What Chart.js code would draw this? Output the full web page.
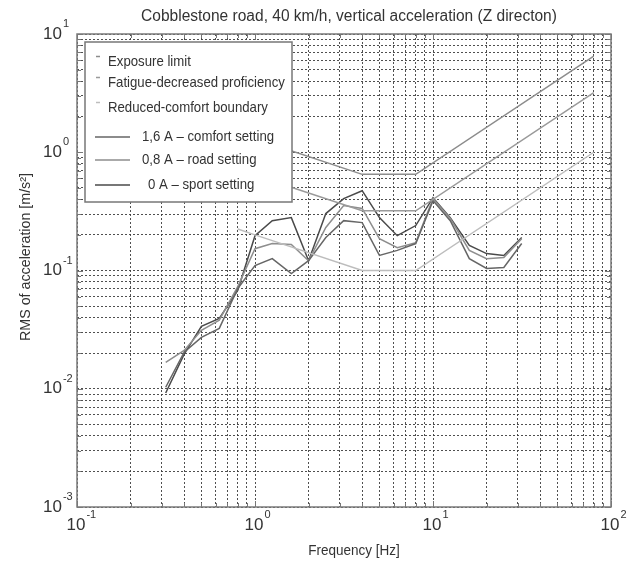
<!DOCTYPE html>
<html>
<head>
<meta charset="utf-8">
<script src="https://cdn.jsdelivr.net/npm/chart.js@4.4.1/dist/chart.umd.min.js"></script>
<style>
  html, body { margin: 0; padding: 0; background: #fff; }
  canvas { display: block; }
</style>
</head>
<body>
<canvas id="chart" width="635" height="568"></canvas>
<script>
// 1/3-octave band centre frequencies [Hz]
const freqs = [0.315, 0.4, 0.5, 0.63, 0.8, 1, 1.25, 1.6, 2, 2.5, 3.15, 4, 5, 6.3, 8, 10, 12.5, 16, 20, 25, 31.5];

// RMS of vertical acceleration [m/s2] per band
const comfort16A = [0.0103, 0.0204, 0.0272, 0.0324, 0.0705, 0.110, 0.126, 0.094, 0.121, 0.190, 0.264, 0.254, 0.134, 0.148, 0.169, 0.390, 0.264, 0.126, 0.104, 0.106, 0.169];
const road08A = [0.0167, 0.0211, 0.0312, 0.0380, 0.0730, 0.153, 0.169, 0.166, 0.121, 0.231, 0.354, 0.335, 0.186, 0.156, 0.172, 0.405, 0.275, 0.148, 0.126, 0.129, 0.186];
const sport0A = [0.0092, 0.0196, 0.0337, 0.0394, 0.0680, 0.197, 0.264, 0.280, 0.121, 0.303, 0.405, 0.473, 0.280, 0.197, 0.240, 0.413, 0.280, 0.163, 0.139, 0.134, 0.190];

// ISO boundary curves
const limitFreqs = [0.8, 1, 4, 8, 80];
const exposureLimit = [1.45, 1.3, 0.65, 0.65, 6.5];
const fatigueProficiency = [0.72, 0.64, 0.32, 0.32, 3.2];
const reducedComfort = [0.224, 0.2, 0.1, 0.1, 1.0];

// axis decades (labels drawn as 10^n)
const xDecades = [0.1, 1, 10, 100];
const yDecades = [0.001, 0.01, 0.1, 1, 10];

const FONT = '"Liberation Sans", Arial, sans-serif';
const TEXT = '#333';

function gridValues(decades) {
  const vals = [];
  decades.forEach((d, i) => {
    if (i === decades.length - 1) { vals.push(d); return; }
    for (let m = 1; m <= 9; m++) vals.push(+(d * m).toPrecision(3));
  });
  return vals;
}

// the original uses a narrow sans, so squeeze text a little
function narrowText(ctx, txt, x, y, squeeze) {
  ctx.save();
  ctx.translate(x, y);
  ctx.scale(squeeze, 1);
  ctx.fillText(txt, 0, 0);
  ctx.restore();
}

const toPoints = (xs, ys) => xs.map((x, i) => ({ x: x, y: ys[i] }));

const line = (label, xs, ys, color, legendKind) => ({
  label: label,
  data: toPoints(xs, ys),
  borderColor: color,
  borderWidth: 1.5,
  pointRadius: 0,
  fill: false,
  tension: 0,
  legendKind: legendKind
});

const datasets = [
  line('Exposure limit', limitFreqs, exposureLimit, '#8c8c8c', 'dash'),
  line('Fatigue-decreased proficiency', limitFreqs, fatigueProficiency, '#9a9a9a', 'dash'),
  line('Reduced-comfort boundary', limitFreqs, reducedComfort, '#bdbdbd', 'dash'),
  line('1,6 A \u2013 comfort setting', freqs, comfort16A, '#666666', 'line'),
  line('0,8 A \u2013 road setting', freqs, road08A, '#8e8e8e', 'line'),
  line('0 A \u2013 sport setting', freqs, sport0A, '#4a4a4a', 'line')
];

function drawPower(ctx, exp, x, y, mode) {
  ctx.fillStyle = TEXT;
  ctx.textBaseline = 'middle';
  ctx.textAlign = 'left';
  ctx.font = '17px ' + FONT;
  const w = ctx.measureText('10').width;
  const left = mode === 'center' ? x - w / 2 : x;
  ctx.fillText('10', left, y);
  ctx.font = '11px ' + FONT;
  ctx.fillText(String(exp), left + w + 1, y - 10);
}

const decorations = {
  id: 'decorations',
  afterDatasetsDraw(chart) {
    const ctx = chart.ctx;
    ctx.save();
    // legend box
    const bx = 85, by = 42, bw = 207, bh = 160;
    ctx.fillStyle = '#fff';
    ctx.fillRect(bx, by, bw, bh);
    ctx.strokeStyle = '#777';
    ctx.lineWidth = 1.5;
    ctx.strokeRect(bx, by, bw, bh);
    const rows = [
      { y: 62, tx: 108 }, { y: 83, tx: 108 }, { y: 108, tx: 108 },
      { y: 137, tx: 142 }, { y: 160, tx: 142 }, { y: 185, tx: 148 }
    ];
    ctx.font = '15px ' + FONT;
    ctx.textBaseline = 'middle';
    ctx.textAlign = 'left';
    chart.data.datasets.forEach((ds, i) => {
      const r = rows[i];
      ctx.strokeStyle = ds.borderColor;
      ctx.lineWidth = 1.5;
      ctx.beginPath();
      if (ds.legendKind === 'dash') {
        ctx.moveTo(96, r.y - 5.5);
        ctx.lineTo(100, r.y - 5.5);
      } else {
        ctx.moveTo(95, r.y);
        ctx.lineTo(130, r.y);
      }
      ctx.stroke();
      ctx.fillStyle = TEXT;
      narrowText(ctx, ds.label, r.tx, r.y, 0.88);
    });
    ctx.restore();
  },
  afterDraw(chart) {
    const ctx = chart.ctx;
    const a = chart.chartArea;
    const xs = chart.scales.x, ys = chart.scales.y;
    ctx.save();
    // inner tick marks
    ctx.strokeStyle = '#777';
    ctx.lineWidth = 1;
    ctx.beginPath();
    gridValues(xDecades).forEach(v => {
      const px = Math.round(xs.getPixelForValue(v)) + 0.5;
      const len = xDecades.includes(v) ? 6 : 4;
      ctx.moveTo(px, a.bottom); ctx.lineTo(px, a.bottom - len);
      ctx.moveTo(px, a.top); ctx.lineTo(px, a.top + len);
    });
    gridValues(yDecades).forEach(v => {
      const py = Math.round(ys.getPixelForValue(v)) + 0.5;
      const len = yDecades.includes(v) ? 6 : 4;
      ctx.moveTo(a.left, py); ctx.lineTo(a.left + len, py);
      ctx.moveTo(a.right, py); ctx.lineTo(a.right - len, py);
    });
    ctx.stroke();
    // frame
    ctx.strokeStyle = '#7a7a7a';
    ctx.lineWidth = 1.5;
    ctx.strokeRect(a.left, a.top, a.right - a.left, a.bottom - a.top);

    // tick labels
    xDecades.forEach(v => {
      drawPower(ctx, Math.round(Math.log10(v)), xs.getPixelForValue(v) - 1, a.bottom + 18, 'center');
    });
    yDecades.forEach(v => {
      drawPower(ctx, Math.round(Math.log10(v)), 43, ys.getPixelForValue(v), 'left');
    });

    // titles
    ctx.fillStyle = TEXT;
    ctx.textAlign = 'center';
    ctx.textBaseline = 'middle';
    ctx.font = '16px ' + FONT;
    narrowText(ctx, 'Cobblestone road, 40 km/h, vertical acceleration (Z directon)', (a.left + a.right) / 2 + 5, 17, 0.97);
    ctx.font = '15px ' + FONT;
    narrowText(ctx, 'Frequency [Hz]', (a.left + a.right) / 2 + 10, 551, 0.9);
    ctx.translate(26, 257);
    ctx.rotate(-Math.PI / 2);
    narrowText(ctx, 'RMS of acceleration [m/s\u00b2]', 0, 0, 0.95);
    ctx.restore();
  }
};

const forceTicks = decades => scale => {
  scale.ticks = gridValues(decades).map(v => ({ value: v }));
};

const axisOpts = (min, max, decades) => ({
  type: 'logarithmic',
  min: min,
  max: max,
  afterBuildTicks: forceTicks(decades),
  ticks: { display: false },
  grid: { color: 'rgba(60,60,60,0.9)', lineWidth: 1, drawTicks: false },
  border: { display: false, dash: [2, 2] }
});

new Chart(document.getElementById('chart'), {
  type: 'line',
  data: { datasets: datasets },
  options: {
    responsive: false,
    animation: false,
    devicePixelRatio: 1,
    layout: { padding: { left: 77, top: 34, right: 24, bottom: 61 } },
    plugins: { legend: { display: false }, title: { display: false }, tooltip: { enabled: false } },
    scales: {
      x: axisOpts(0.1, 100, xDecades),
      y: axisOpts(0.001, 10, yDecades)
    }
  },
  plugins: [decorations]
});
</script>
</body>
</html>
